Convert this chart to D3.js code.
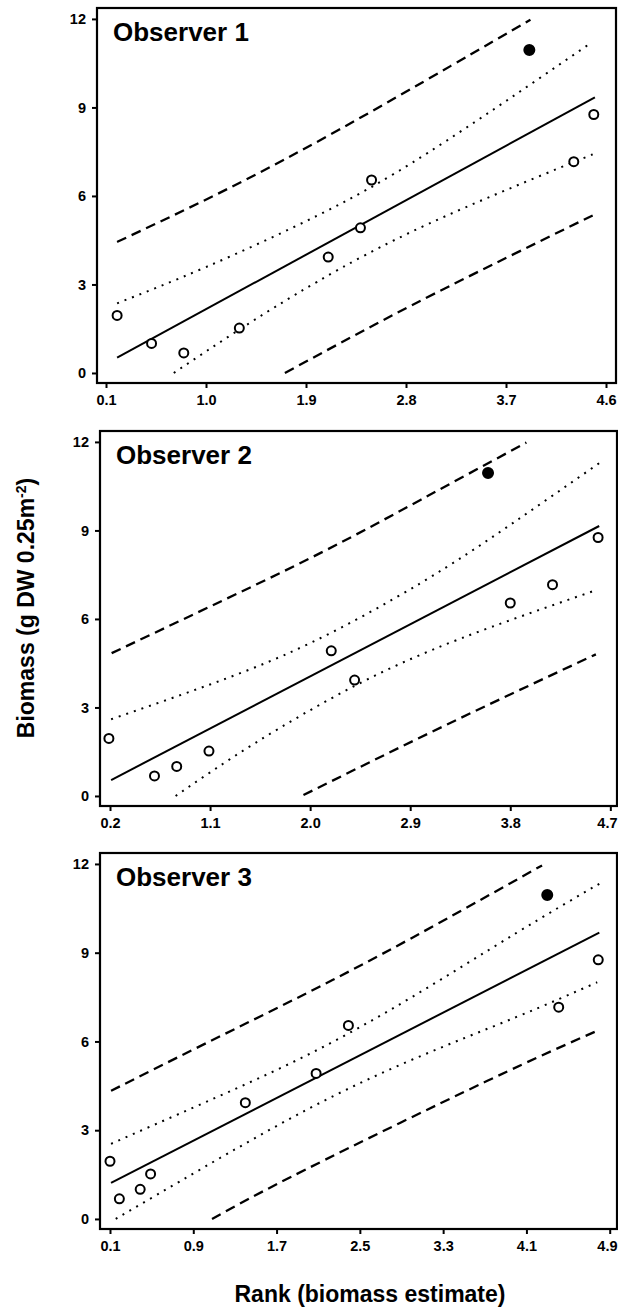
<!DOCTYPE html>
<html>
<meta charset="utf-8" />
<style>
	html, body { margin: 0; padding: 0; background: #fff; }
	svg { display: block; }
	text { font-family: "Liberation Sans", Arial, Helvetica, sans-serif; font-weight: bold; fill: #000; }
	.tick line { stroke: #000; stroke-width: 2px; }
	.tick text { font-size: 14.5px; }
	.frame { fill: none; stroke: #000; stroke-width: 2.2px; }
	.fit { fill: none; stroke: #000; stroke-width: 2px; }
	.conf { fill: none; stroke: #000; stroke-width: 2px; stroke-dasharray: 2 6; }
	.pred { fill: none; stroke: #000; stroke-width: 2.3px; stroke-dasharray: 10 6; }
</style>
<body>
<svg width="618" height="1309"></svg>
<script src="https://d3js.org/d3.v7.min.js"></script>
<script>
// observed biomass per quadrat (same for all observers); last one is the filled outlier
var biomass = [1.95, 0.68, 1.0, 1.52, 3.93, 4.92, 6.54, 7.16, 8.76, 10.95];
var outlier = [0, 0, 0, 0, 0, 0, 0, 0, 0, 1];

// rank of biomass estimate, one list per observer
var rank1 = [0.20, 0.80, 0.51, 1.30, 2.10, 2.39, 2.49, 4.31, 4.49, 3.91];
var rank2 = [0.19, 0.60, 0.80, 1.09, 2.40, 2.19, 3.80, 4.18, 4.59, 3.60];
var rank3 = [0.10, 0.19, 0.39, 0.49, 1.40, 2.08, 2.39, 4.41, 4.79, 4.30];

// fitted line ends [x, y]
var fit1 = [[0.20, 0.52], [4.50, 9.34]];
var fit2 = [[0.21, 0.54], [4.60, 9.15]];
var fit3 = [[0.11, 1.22], [4.80, 9.68]];

// 95% confidence band (dotted)
var confUp1 = [[0.20, 2.36], [1.00, 3.59], [2.00, 5.33], [3.00, 7.47], [4.47, 11.20]];
var confLo1 = [[0.71, 0.00], [1.30, 1.47], [2.00, 3.09], [3.00, 5.05], [4.48, 7.41]];
var confUp2 = [[0.21, 2.60], [1.10, 3.78], [2.00, 5.18], [3.00, 7.23], [3.80, 9.19], [4.60, 11.28]];
var confLo2 = [[0.79, 0.00], [1.50, 1.78], [2.40, 3.73], [3.35, 5.33], [4.56, 6.96]];
var confUp3 = [[0.11, 2.54], [1.00, 3.92], [2.00, 5.55], [3.00, 7.50], [4.00, 9.66], [4.80, 11.33]];
var confLo3 = [[0.155, 0.00], [1.00, 1.74], [2.00, 3.71], [3.00, 5.38], [4.00, 6.82], [4.78, 8.00]];

// 95% prediction band (dashed)
var predUp1 = [[0.20, 4.44], [1.20, 6.25], [2.20, 8.25], [3.20, 10.40], [3.92, 11.97]];
var predLo1 = [[1.71, 0.00], [2.50, 1.60], [3.30, 3.15], [4.48, 5.34]];
var predUp2 = [[0.215, 4.84], [1.10, 6.42], [2.09, 8.23], [3.00, 10.05], [3.945, 11.98]];
var predLo2 = [[1.94, 0.03], [3.23, 2.42], [4.57, 4.80]];
var predUp3 = [[0.11, 4.33], [1.00, 5.90], [2.00, 7.65], [3.00, 9.50], [4.25, 11.95]];
var predLo3 = [[1.08, 0.00], [1.99, 1.69], [3.72, 4.66], [4.78, 6.36]];

var xTicks1 = [0.1, 1.0, 1.9, 2.8, 3.7, 4.6];
var xTicks2 = [0.2, 1.1, 2.0, 2.9, 3.8, 4.7];
var xTicks3 = [0.1, 0.9, 1.7, 2.5, 3.3, 4.1, 4.9];
var yTicks = [0, 3, 6, 9, 12];
var titles = ["Observer 1", "Observer 2", "Observer 3"];

var panels = [
	{ title: titles[0], rank: rank1, fit: fit1, conf: [confUp1, confLo1], pred: [predUp1, predLo1], xTicks: xTicks1, xDom: [0.019, 4.69], box: [97, 8, 616, 383] },
	{ title: titles[1], rank: rank2, fit: fit2, conf: [confUp2, confLo2], pred: [predUp2, predLo2], xTicks: xTicks2, xDom: [0.11, 4.76], box: [100, 431, 617, 806] },
	{ title: titles[2], rank: rank3, fit: fit3, conf: [confUp3, confLo3], pred: [predUp3, predLo3], xTicks: xTicks3, xDom: [0.004, 4.97], box: [100, 853, 617, 1229] }
];

var svg = d3.select("svg");
var W = +svg.attr("width");

panels.forEach(function (p) {
	var l = p.box[0], t = p.box[1], r = p.box[2], b = p.box[3];
	var x = d3.scaleLinear().domain(p.xDom).range([l, r]);
	var y = d3.scaleLinear().domain([-0.34, 12.37]).range([b, t]);
	var g = svg.append("g");

	var line = d3.line()
		.x(function (d) { return x(d[0]); })
		.y(function (d) { return y(d[1]); })
		.curve(d3.curveNatural);

	var xa = g.append("g")
		.attr("transform", "translate(0," + b + ")")
		.call(d3.axisBottom(x).tickValues(p.xTicks).tickFormat(d3.format(".1f")).tickSize(5).tickSizeOuter(0).tickPadding(7))
		.call(function (a) { a.select(".domain").remove(); });

	// keep the last tick label inside the page
	xa.selectAll(".tick").each(function (d) {
		var txt = d3.select(this).select("text");
		var bb = txt.node().getBBox();
		var over = x(d) + bb.x + bb.width - (W - 1);
		if (over > 0) txt.attr("dx", -over);
	});

	g.append("g")
		.attr("transform", "translate(" + l + ",0)")
		.call(d3.axisLeft(y).tickValues(yTicks).tickFormat(d3.format("d")).tickSize(5).tickSizeOuter(0).tickPadding(6))
		.call(function (a) { a.select(".domain").remove(); });

	g.append("rect").attr("class", "frame")
		.attr("x", l).attr("y", t).attr("width", r - l).attr("height", b - t);

	p.pred.forEach(function (d) { g.append("path").attr("class", "pred").attr("d", line(d)); });
	p.conf.forEach(function (d) { g.append("path").attr("class", "conf").attr("d", line(d)); });
	g.append("path").attr("class", "fit").attr("d", line(p.fit));

	g.selectAll("circle")
		.data(biomass)
		.enter()
		.append("circle")
		.attr("cx", function (d, i) { return x(p.rank[i]); })
		.attr("cy", function (d) { return y(d); })
		.attr("r", function (d, i) { return outlier[i] ? 5 : 4.5; })
		.attr("fill", function (d, i) { return outlier[i] ? "#000" : "#fff"; })
		.attr("stroke", "#000")
		.attr("stroke-width", 2);

	g.append("text")
		.attr("x", l + 16)
		.attr("y", t + 33)
		.style("font-size", "26px")
		.text(p.title);
});

svg.append("text")
	.attr("x", 370)
	.attr("y", 1302)
	.attr("text-anchor", "middle")
	.style("font-size", "23px")
	.text("Rank (biomass estimate)");

var yl = svg.append("text")
	.attr("transform", "translate(34,608) rotate(-90)")
	.attr("text-anchor", "middle")
	.style("font-size", "23px");
yl.append("tspan").text("Biomass (g DW 0.25m");
yl.append("tspan").attr("baseline-shift", "super").style("font-size", "14px").text("-2");
yl.append("tspan").text(")");
</script>
</body>
</html>
